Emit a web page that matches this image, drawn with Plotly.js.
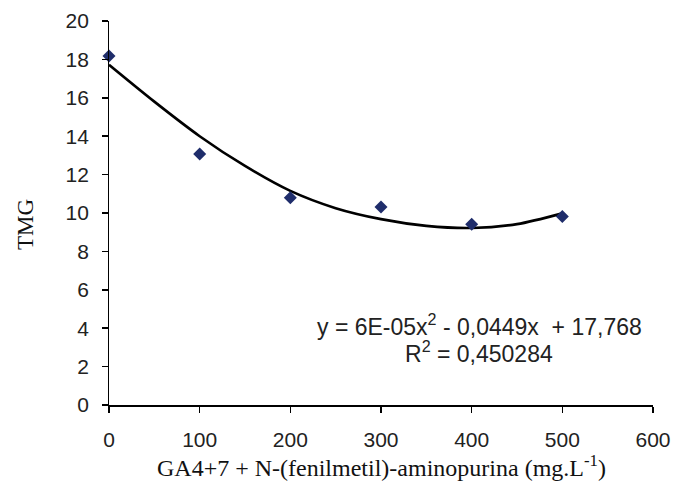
<!DOCTYPE html>
<html>
<head>
<meta charset="utf-8">
<script src="https://cdn.plot.ly/plotly-3.0.1.min.js"></script>
<style>html,body{margin:0;padding:0;background:#fff;}#chart{width:674px;height:484px;}</style>
</head>
<body>
<div id="chart"></div>
<script>
// Observed data points
const doseX = [0, 100, 200, 300, 400, 500];
const tmgY = [18.18, 13.07, 10.80, 10.31, 9.41, 9.82];

// Trendline
const trendX = [0, 50, 100, 150, 200, 250, 300, 350, 400, 450, 500];
const trendY = [17.72, 15.80, 14.00, 12.45, 11.15, 10.25, 9.68, 9.33, 9.22, 9.42, 9.98];

const xTicks = [0, 100, 200, 300, 400, 500, 600];
const yTicks = [0, 2, 4, 6, 8, 10, 12, 14, 16, 18, 20];

const equationText = 'y = 6E-05x<sup>2</sup> - 0,0449x  + 17,768';
const r2Text = 'R<sup>2</sup> = 0,450284';
const xTitleText = 'GA4+7 + N-(fenilmetil)-aminopurina (mg.L<sup>-1</sup>)';
const yTitleText = 'TMG';

const traces = [
  {
    x: trendX, y: trendY, type: 'scatter', mode: 'lines',
    line: {color: '#000000', width: 2.6, shape: 'spline', smoothing: 0.8},
    hoverinfo: 'skip', cliponaxis: false
  },
  {
    x: doseX, y: tmgY, type: 'scatter', mode: 'markers',
    marker: {symbol: 'diamond', size: 10, color: '#1f2d6b'},
    cliponaxis: false
  }
];

const tickFont = {family: 'Liberation Sans, Arial, sans-serif', size: 21, color: '#222222'};

const layout = {
  width: 674, height: 484,
  margin: {l: 109, r: 21, t: 21, b: 79},
  paper_bgcolor: '#ffffff', plot_bgcolor: '#ffffff',
  showlegend: false,
  xaxis: {
    range: [0, 600], tickmode: 'array', tickvals: xTicks, ticktext: xTicks.map(String),
    showgrid: false, zeroline: false, showline: true, linecolor: '#000000', linewidth: 1.5,
    ticks: 'outside', ticklen: 6, tickwidth: 1.5, tickcolor: '#000000',
    tickfont: tickFont, ticklabelstandoff: 9, fixedrange: true
  },
  yaxis: {
    range: [0, 20], tickmode: 'array', tickvals: yTicks, ticktext: yTicks.map(v => v + '\u2009\u2009'),
    showgrid: false, zeroline: false, showline: true, linecolor: '#000000', linewidth: 1.5,
    ticks: 'outside', ticklen: 6, tickwidth: 1.5, tickcolor: '#000000',
    tickfont: tickFont, fixedrange: true
  },
  annotations: [
    {text: equationText, xref: 'paper', yref: 'paper', x: (479 - 109) / 544, y: (405 - 325) / 384,
     xanchor: 'center', yanchor: 'middle', showarrow: false,
     font: {family: 'Liberation Sans, Arial, sans-serif', size: 23, color: '#222222'}},
    {text: r2Text, xref: 'paper', yref: 'paper', x: (479 - 109) / 544, y: (405 - 352) / 384,
     xanchor: 'center', yanchor: 'middle', showarrow: false,
     font: {family: 'Liberation Sans, Arial, sans-serif', size: 23, color: '#222222'}},
    {text: xTitleText, xref: 'paper', yref: 'paper', x: 0.5, y: 0, yshift: -61,
     xanchor: 'center', yanchor: 'middle', showarrow: false,
     font: {family: 'Liberation Serif, Times New Roman, serif', size: 24, color: '#111111'}},
    {text: yTitleText, xref: 'paper', yref: 'paper', x: 0, xshift: -84, y: 0.5, yshift: -12,
     xanchor: 'center', yanchor: 'middle', showarrow: false, textangle: -90,
     font: {family: 'Liberation Serif, Times New Roman, serif', size: 23, color: '#111111'}}
  ]
};

Plotly.newPlot('chart', traces, layout, {displayModeBar: false, staticPlot: true});
</script>
</body>
</html>
